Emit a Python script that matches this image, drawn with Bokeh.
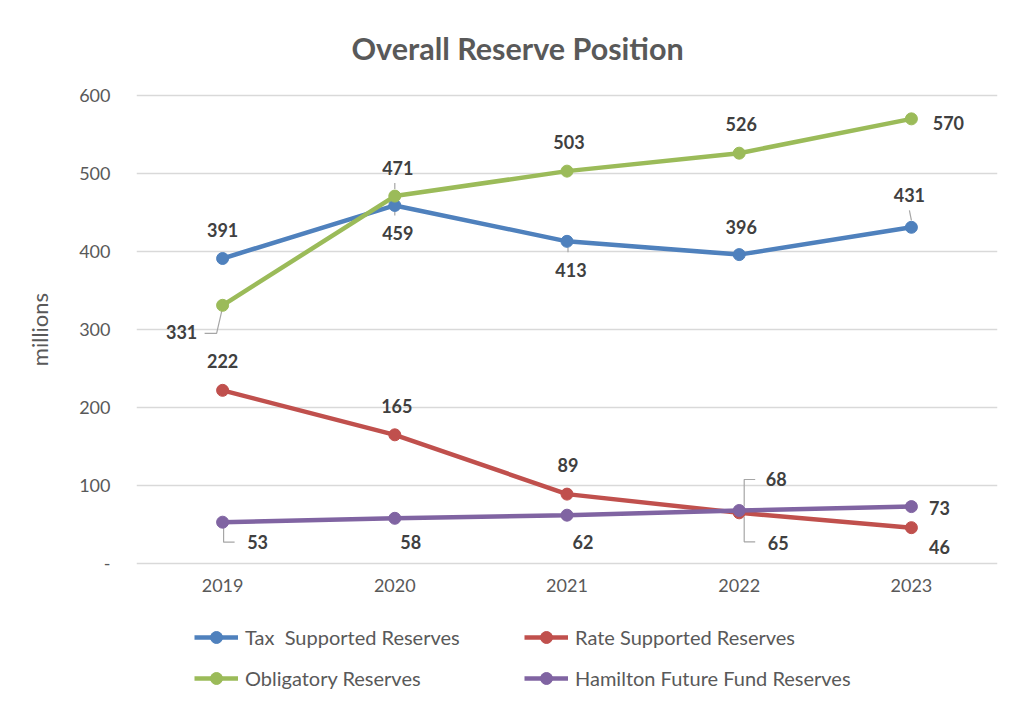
from bokeh.plotting import figure
from bokeh.layouts import column
from bokeh.models import (Range1d, FixedTicker, Legend, LegendItem,
                          ColumnDataSource)
from bokeh.core.properties import value
from bokeh.embed import file_html
from bokeh.resources import INLINE

# ---------------- data ----------------
years = ["2019", "2020", "2021", "2022", "2023"]
tax_supported = [391, 459, 413, 396, 431]
rate_supported = [222, 165, 89, 65, 46]
obligatory = [331, 471, 503, 526, 570]
hamilton_future = [53, 58, 62, 68, 73]
y_ticks = [0, 100, 200, 300, 400, 500, 600]

series_names = ["Tax  Supported Reserves", "Rate Supported Reserves",
                "Obligatory Reserves", "Hamilton Future Fund Reserves"]

# ---------------- styles ----------------
colors = ["#4F81BD", "#C0504D", "#9BBB59", "#8064A2"]
FONT = "Lato"
GREY = "#595959"
LABEL_GREY = "#404040"

# label offsets in px (dx, dy; dy positive = down)
label_offsets = [
    [(0, -29), (3, 28), (4, 29), (2, -28), (-2, -32)],
    [(0, -29), (2, -29), (1, -29), (39, 30), (28, 19)],
    [(-41, 27), (3, -28), (2, -29), (2, -29), (37, 4)],
    [(35, 20), (16, 24), (16, 27), (37, -31), (28, 1)],
]
# leader line paths in px relative to point: (series, index, path)
leaders = [
    (2, 0, [(0, 2), (-6, 28), (-18, 28)]),
    (3, 0, [(1, 0), (1, 20), (12, 20)]),
    (3, 3, [(5, -4), (5, -31), (16, -31)]),
    (1, 3, [(5, 4), (5, 29), (16, 29)]),
    (2, 1, [(0, -13), (0, -7)]),
    (0, 1, [(0, 6), (0, 10)]),
    (0, 2, [(1, 6), (1, 11)]),
    (0, 4, [(-2, -17), (0, -7)]),
]

W = 1013
H_MAIN, H_LEG = 604, 100
FL, FR, FT, FB = 136, 997, 93, 565   # frame edges in px
y0, y1 = -2.5, 602.5
x0, x1 = -0.5, 4.5

p = figure(width=W, height=H_MAIN, output_backend="svg",
           toolbar_location=None,
           x_range=Range1d(x0, x1), y_range=Range1d(y0, y1),
           min_border_left=FL, min_border_right=W - FR,
           min_border_top=FT, min_border_bottom=H_MAIN - FB)
p.outline_line_color = None
p.background_fill_color = "white"
p.border_fill_color = "white"

# title
p.title.text = "Overall Reserve Position"
p.title.align = "left"
p.title.offset = 215
p.title.text_font = FONT
p.title.text_font_style = "bold"
p.title.text_font_size = "30.5px"
p.title.text_color = GREY
p.title.standoff = 55

px_per_x = (FR - FL) / (x1 - x0)
px_per_y = (FB - FT) / (y1 - y0)

# axes
p.xaxis.ticker = FixedTicker(ticks=list(range(len(years))))
p.xaxis.major_label_overrides = {i: y for i, y in enumerate(years)}
p.yaxis.ticker = FixedTicker(ticks=y_ticks)
p.yaxis.major_label_overrides = {0: "-"}
for ax in (p.xaxis[0], p.yaxis[0]):
    ax.axis_line_color = None
    ax.major_tick_line_color = None
    ax.minor_tick_line_color = None
    ax.major_tick_out = 0
    ax.major_tick_in = 0
    ax.major_label_text_font = FONT
    ax.major_label_text_font_size = "18px"
    ax.major_label_text_color = GREY
p.xaxis.major_label_standoff = 13
p.yaxis.major_label_standoff = 26
p.yaxis.axis_label = "millions"
p.yaxis.axis_label_text_font = FONT
p.yaxis.axis_label_text_font_size = "22px"
p.yaxis.axis_label_text_font_style = "normal"
p.yaxis.axis_label_text_color = GREY
p.yaxis.axis_label_standoff = 23

p.xgrid.grid_line_color = None
p.ygrid.ticker = FixedTicker(ticks=y_ticks)
p.ygrid.grid_line_color = "#d9d9d9"
p.ygrid.grid_line_width = 1.5

xs = list(range(len(years)))
all_series = [tax_supported, rate_supported, obligatory, hamilton_future]

# leader lines (drawn first, beneath)
lx, ly = [], []
for s, i, path in leaders:
    vx, vy = xs[i], all_series[s][i]
    lx.append([vx + dx / px_per_x for dx, dy in path])
    ly.append([vy - dy / px_per_y for dx, dy in path])
p.multi_line(lx, ly, line_color="#a6a6a6", line_width=1.2)

for vals, col in zip(all_series, colors):
    src = ColumnDataSource(dict(x=xs, y=vals))
    p.line("x", "y", source=src, line_color=col, line_width=4.5)
    p.scatter("x", "y", source=src, size=12, fill_color=col,
              line_color=col, marker="circle")

# data labels
for vals, offs in zip(all_series, label_offsets):
    src = ColumnDataSource(dict(x=xs, y=vals, t=[str(v) for v in vals],
                                dx=[o[0] for o in offs],
                                dy=[o[1] for o in offs]))
    p.text("x", "y", text="t", source=src, x_offset="dx", y_offset="dy",
           text_align="center", text_baseline="middle",
           text_font=value(FONT), text_font_style="bold",
           text_font_size="18px", text_color=LABEL_GREY)

# ---------------- legend strip ----------------
lf = figure(width=W, height=H_LEG, output_backend="svg",
            toolbar_location=None, x_range=Range1d(x0, x1),
            y_range=Range1d(-2000, -1900),
            x_axis_location=None, y_axis_location=None,
            min_border_left=0, min_border_right=0,
            min_border_top=0, min_border_bottom=0)
lf.outline_line_color = None
lf.xgrid.visible = False
lf.ygrid.visible = False

leg_renderers = []
for vals, col in zip(all_series, colors):
    src = ColumnDataSource(dict(x=xs, y=vals))
    l = lf.line("x", "y", source=src, line_color=col, line_width=4.5)
    c = lf.scatter("x", "y", source=src, size=12, fill_color=col,
                   line_color=col, marker="circle")
    leg_renderers.append([l, c])


def make_legend(idx, loc):
    lg = Legend(items=[LegendItem(label=series_names[i],
                                  renderers=leg_renderers[i]) for i in idx],
                location=loc, orientation="vertical")
    lg.padding = 0
    lg.margin = 0
    lg.spacing = 11
    lg.glyph_width = 44
    lg.glyph_height = 30
    lg.label_height = 30
    lg.label_standoff = 7
    lg.label_text_font = FONT
    lg.label_text_font_size = "20px"
    lg.label_text_color = GREY
    lg.border_line_color = None
    lg.background_fill_alpha = 0
    return lg


lf.add_layout(make_legend([0, 2], (58, 11)))
lf.add_layout(make_legend([1, 3], (388, 11)))

layout = column(p, lf, spacing=0)
open("out.html", "w").write(file_html(layout, INLINE))
